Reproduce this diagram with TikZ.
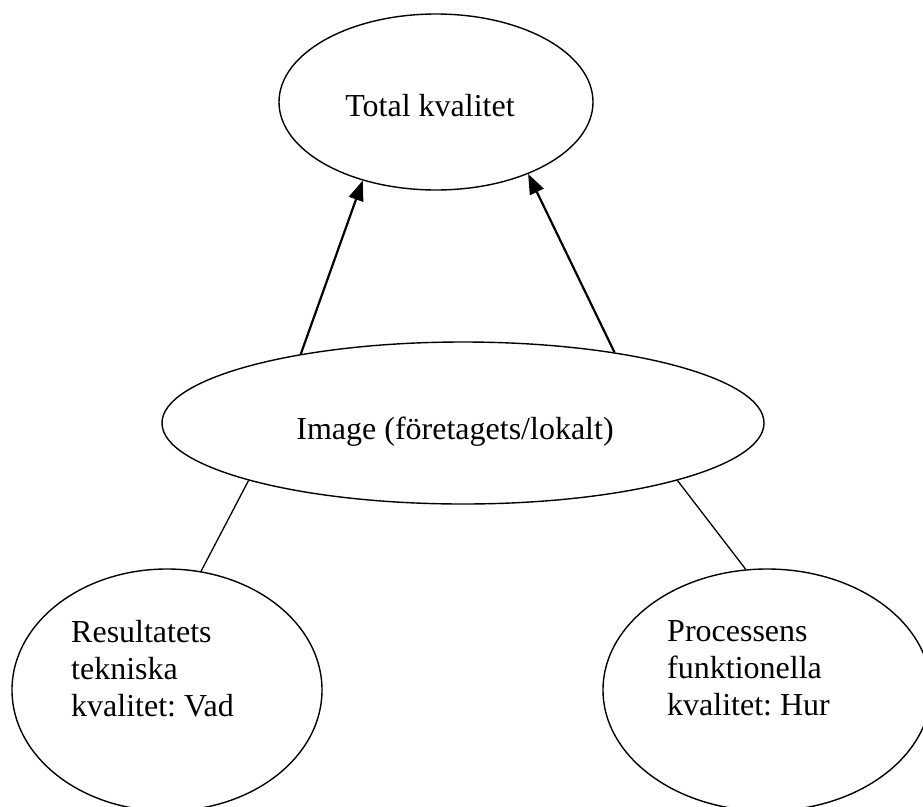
\documentclass[tikz,border=0pt]{standalone}
\usepackage{fontspec}
\setmainfont{Liberation Serif}
\usetikzlibrary{arrows.meta,shapes.geometric}

\tikzset{
  oval/.style={ellipse, draw=black, line width=1.4pt, inner sep=0pt},
  label text/.style={inner sep=0pt, font=\fontsize{32}{37}\selectfont\frenchspacing},
  arrowline/.style={line width=2.2pt, -{Triangle[length=20pt,width=15pt]}},
  plainline/.style={line width=1.3pt},
}

\begin{document}
\begin{tikzpicture}[x=1pt, y=-1pt]
  \fill[white] (0,0) rectangle (923,806);
  \useasboundingbox (0,0) rectangle (923,806);
  \clip (0,0) rectangle (923,806);

  % ovals
  \node[oval, minimum width=314pt, minimum height=176pt] (top) at (436,102) {};
  \node[oval, minimum width=602pt, minimum height=162pt] (mid) at (463,423) {};
  \node[oval, minimum width=310pt, minimum height=242pt] (left) at (167,690) {};
  \node[oval, minimum width=328pt, minimum height=242pt] (right) at (767,690) {};

  % texts
  \node[label text, anchor=base] (toptext) at (430,116) {Total kvalitet};
  \node[label text, anchor=base] (midtext) at (455,439) {Image (företagets/lokalt)};
  \node[label text, anchor=north west, align=left] (lefttext) at (71,620)
    {Resultatets\\tekniska\\kvalitet: Vad};
  \node[label text, anchor=north west, align=left] (righttext) at (667,620)
    {Processens\\funktionella\\kvalitet: Hur};

  % connectors
  \draw[arrowline] (mid.157.5) -- (top.227.7);
  \draw[arrowline] (mid.25.8) -- (top.322.9);
  \draw[plainline] (mid.195.1) -- (left.74.7);
  \draw[plainline] (mid.345.4) -- (right.100.9);
\end{tikzpicture}
\end{document}
